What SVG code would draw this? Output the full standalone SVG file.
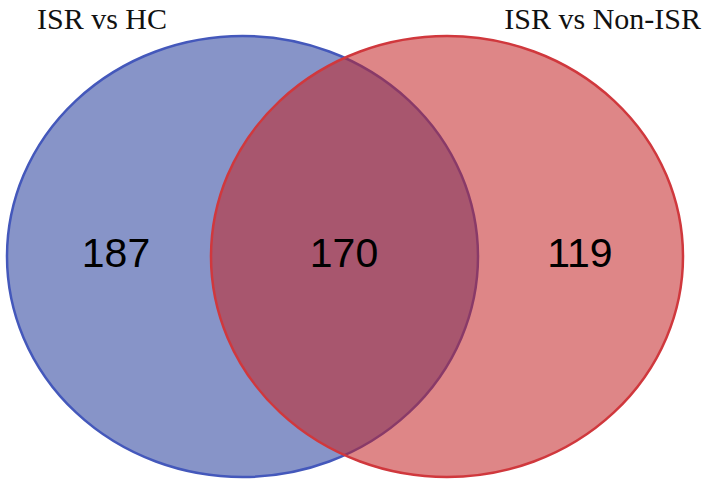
<svg xmlns="http://www.w3.org/2000/svg" width="709" height="487" viewBox="0 0 709 487">
<style>
.title{font-family:"Liberation Serif","Times New Roman",serif;font-size:30px;fill:#111}
.num{font-family:"Liberation Sans",Arial,sans-serif;font-size:41px;fill:#000;text-anchor:middle}
</style>
<rect width="709" height="487" fill="#fff"/>
<g id="set-hc">
<ellipse cx="242.5" cy="256.5" rx="235.5" ry="220.5" fill="#8794c8" stroke="#4458bb" stroke-width="2.5"/>
</g>
<g id="set-nonisr">
<ellipse cx="447" cy="256.5" rx="236" ry="220.5" fill="#c32325" fill-opacity="0.55" stroke="#d0383d" stroke-width="2.5"/>
</g>
<g id="labels">
<text class="title" x="37" y="29">ISR vs HC</text>
<text class="title" x="701" y="29" text-anchor="end">ISR vs Non-ISR</text>
<text class="num" x="116" y="267">187</text>
<text class="num" x="344" y="267">170</text>
<text class="num" x="580" y="267">119</text>
</g>
</svg>
